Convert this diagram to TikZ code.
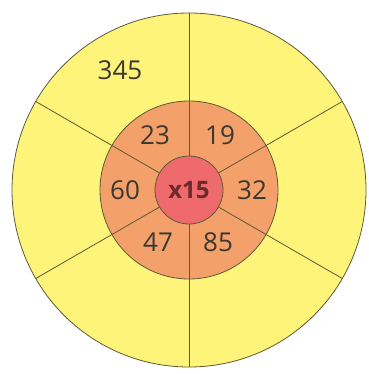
\documentclass[tikz,border=0pt]{standalone}
\usepackage{fontspec}
\setmainfont{Open Sans}
\usetikzlibrary{calc}
\definecolor{ylw}{HTML}{FEF47A}
\definecolor{org}{HTML}{F4A06A}
\definecolor{rd}{HTML}{EE6A6C}
\definecolor{ln}{HTML}{5E5A38}
\definecolor{tx}{HTML}{3A3830}
\definecolor{txr}{HTML}{6E2A30}
\begin{document}
\begin{tikzpicture}[x=1pt,y=1pt,
  ring/.style={draw=ln,line width=0.8pt},
  spoke/.style={draw=ln,line width=0.8pt},
  num/.style={text=tx,font=\fontsize{26}{26}\selectfont,inner sep=0pt}]
\useasboundingbox (0,0) rectangle (368,-374);
\coordinate (c) at (189,-190);
\fill[white] (0,0) rectangle (368,-374);
\draw[ring,fill=ylw] (c) circle (177);
\draw[ring,fill=org] (c) circle (89);
\foreach \a in {30,90,150,210,270,330}
  \draw[spoke] ($(c)+(\a:34)$) -- ($(c)+(\a:177)$);
\draw[ring,fill=rd] (c) circle (34);
\node[num] (t345) at (120,-70) {345};
\node[num] (t23) at (155,-135) {23};
\node[num] (t19) at (220,-135) {19};
\node[num] (t60) at (125,-190) {60};
\node[num] (t32) at (252,-190) {32};
\node[num] (t47) at (158,-242) {47};
\node[num] (t85) at (218,-242) {85};
\node[num,font=\bfseries\fontsize{24}{24}\selectfont,text=txr] (x15) at (c) {x15};
\end{tikzpicture}
\end{document}
